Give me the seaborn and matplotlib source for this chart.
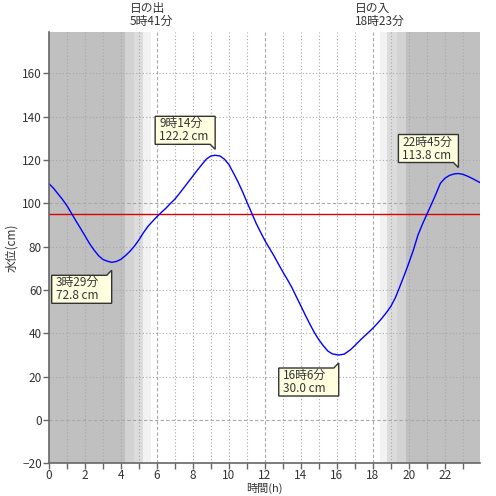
import matplotlib
matplotlib.use("Agg")
import matplotlib.pyplot as plt
import matplotlib.transforms as mtransforms
from matplotlib.patches import Polygon
import numpy as np
import pandas as pd
import seaborn as sns

# ---- data ----
hours = [0.0, 0.25, 0.5, 0.75, 1.0, 1.25, 1.5, 1.75, 2.0, 2.25, 2.5, 2.75, 3.0, 3.25,
         3.483, 3.75, 4.0, 4.25, 4.5, 4.75, 5.0, 5.25, 5.5, 5.75, 6.0, 6.25, 6.5, 6.75,
         7.0, 7.25, 7.5, 7.75, 8.0, 8.25, 8.5, 8.75, 9.0, 9.233, 9.5, 9.75, 10.0, 10.25,
         10.5, 10.75, 11.0, 11.25, 11.5, 11.75, 12.0, 12.25, 12.5, 12.75, 13.0, 13.25,
         13.5, 13.75, 14.0, 14.25, 14.5, 14.75, 15.0, 15.25, 15.5, 15.75, 16.1, 16.4,
         16.75, 17.0, 17.25, 17.5, 17.75, 18.0, 18.25, 18.5, 18.75, 19.0, 19.25, 19.5,
         19.75, 20.0, 20.25, 20.5, 20.75, 21.0, 21.25, 21.5, 21.75, 22.0, 22.25, 22.5,
         22.75, 23.0, 23.25, 23.5, 23.75, 23.95]
level = [109.1, 107.0, 104.4, 101.8, 98.9, 95.4, 91.9, 88.5, 85.0, 81.5, 78.5, 75.9,
         74.1, 73.3, 72.8, 73.2, 74.2, 75.9, 77.9, 80.3, 83.2, 86.5, 89.4, 91.7, 93.9,
         95.9, 97.8, 100.0, 102.0, 104.6, 107.3, 110.0, 112.7, 115.4, 118.0, 120.5,
         121.9, 122.2, 121.9, 120.4, 117.9, 114.0, 110.0, 105.5, 100.6, 95.8, 91.0,
         86.8, 82.8, 79.3, 75.8, 72.0, 68.3, 64.8, 61.1, 56.8, 52.6, 48.3, 44.2, 40.3,
         37.0, 34.2, 31.8, 30.5, 30.0, 30.4, 32.4, 34.4, 36.5, 38.5, 40.4, 42.4, 44.6,
         47.0, 49.6, 52.5, 56.5, 61.7, 67.0, 72.6, 78.5, 85.3, 90.4, 95.0, 99.6, 104.3,
         109.3, 111.6, 112.9, 113.6, 113.8, 113.4, 112.6, 111.6, 110.5, 109.6]
ref_level = 95.0

ext_times = [3.483, 9.233, 16.1, 22.75]
ext_values = [72.8, 122.2, 30.0, 113.8]
ext_labels = ["3時29分\n72.8 cm", "9時14分\n122.2 cm", "16時6分\n30.0 cm", "22時45分\n113.8 cm"]
ext_is_high = [False, True, False, True]

sunrise = 5 + 41 / 60
sunset = 18 + 23 / 60
sun_labels = ["日の出\n5時41分", "日の入\n18時23分"]
# twilight band edges (hours)
morning_edges = [0.0, 4.22, 4.72, 5.21, sunrise]
evening_edges = [sunset, 18.80, 19.32, 19.82, 23.95]
band_colors_m = ["#c0c0c0", "#d3d3d3", "#dcdcdc", "#f2f2f2"]
band_colors_e = ["#f2f2f2", "#dcdcdc", "#d3d3d3", "#c0c0c0"]

df = pd.DataFrame({"hour": hours, "level": level})

# ---- plot ----
sns.set_style("white")
plt.rcParams["font.family"] = ["Noto Sans CJK JP", "DejaVu Sans"]

fig = plt.figure(figsize=(4.96, 4.96), dpi=100)
ax = fig.add_axes([49 / 496, 1 - 463.3 / 496, (480 - 49) / 496, (463.3 - 32.3) / 496])
ax.set_xlim(0, 23.95)
ax.set_ylim(-20, 179)

for i in range(4):
    ax.axvspan(morning_edges[i], morning_edges[i + 1], color=band_colors_m[i], lw=0, zorder=0)
    ax.axvspan(evening_edges[i], evening_edges[i + 1], color=band_colors_e[i], lw=0, zorder=0)

# grid
gc = "#a8a8a8"
for h in range(1, 24):
    if h % 6 == 0:
        ax.axvline(h, color=gc, lw=0.8, ls=(0, (3, 2)), zorder=1)
    else:
        ax.axvline(h, color=gc, lw=0.8, ls=(0, (1, 2)), zorder=1)
for v in range(0, 180, 20):
    if v in (0, 100):
        ax.axhline(v, color=gc, lw=0.8, ls=(0, (3, 2)), zorder=1)
    else:
        ax.axhline(v, color=gc, lw=0.8, ls=(0, (1, 2)), zorder=1)

ax.axhline(ref_level, color="#dd0000", lw=1.0, zorder=2)
sns.lineplot(data=df, x="hour", y="level", ax=ax, color="#0000ff", lw=1.0, zorder=3)

# callouts
for t, v, lab, high in zip(ext_times, ext_values, ext_labels, ext_is_high):
    if high:
        verts = [(-60, 39), (0, 39), (0, 6), (-5, 11), (-60, 11)]
        ty = 25
    else:
        verts = [(-60, -13), (-5, -13), (0, -8), (0, -41), (-60, -41)]
        ty = -27
    tr = mtransforms.Affine2D() + mtransforms.ScaledTranslation(t, v, ax.transData)
    poly = Polygon(verts, closed=True, transform=tr, fc="#ffffe0", ec="#333333", lw=1.0,
                   zorder=5, clip_on=False)
    ax.add_patch(poly)
    ax.annotate(lab, xy=(t, v), xytext=(-56, ty), textcoords="offset pixels",
                ha="left", va="center", fontsize=8.5, color="#333333", zorder=6,
                linespacing=1.0)

# sunrise / sunset labels
for x, lab in zip([sunrise, sunset], sun_labels):
    ax.annotate(lab, xy=(x, 1), xycoords=("data", "axes fraction"), xytext=(0, 4),
                textcoords="offset pixels", ha="center", va="bottom",
                multialignment="left", fontsize=8.5, color="#333333", linespacing=1.0)

ax.set_xticks(range(0, 24, 2))
ax.set_xticks(range(0, 24, 1), minor=True)
ax.set_yticks(range(-20, 180, 20))
ax.tick_params(axis="both", which="both", direction="out", length=4, width=1,
               color="#666666", labelsize=8.5, labelcolor="#333333", pad=0)
ax.tick_params(axis="x", which="both", bottom=True)
ax.tick_params(axis="y", left=True, pad=1)
for s in ["top", "right"]:
    ax.spines[s].set_visible(False)
for s in ["left", "bottom"]:
    ax.spines[s].set_color("#666666")
    ax.spines[s].set_linewidth(1.2)
    ax.spines[s].set_zorder(7)

ax.set_xlabel("時間(h)", fontsize=8, color="#333333", va="center")
ax.set_ylabel("水位(cm)", fontsize=8.5, color="#333333")
ax.xaxis.set_label_coords(0.5, -0.058)
ax.yaxis.set_label_coords(-0.072, 0.5)

fig.savefig("out.png", dpi=100)
